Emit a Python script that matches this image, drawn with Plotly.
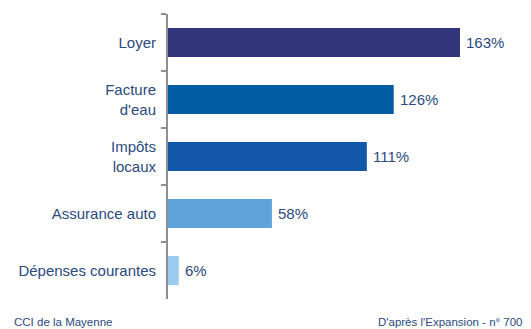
import plotly.graph_objects as go

# Hausse des dépenses (en %)
categories = ["Loyer", "Facture<br>d'eau", "Impôts<br>locaux", "Assurance auto", "Dépenses courantes"]
values = [163, 126, 111, 58, 6]
labels = ["163%", "126%", "111%", "58%", "6%"]
colors = ["#33357a", "#005ba3", "#1358a8", "#5fa3d9", "#99ccee"]

text_color = "#2b4a7e"
font_family = "Liberation Sans, Arial, sans-serif"

fig = go.Figure(
    go.Bar(
        x=values,
        y=categories,
        orientation="h",
        marker=dict(color=colors, line=dict(width=0)),
        cliponaxis=False,
        hoverinfo="skip",
    )
)

# value labels placed just right of each bar end
value_notes = [
    dict(
        x=v, y=c, xref="x", yref="y",
        text=t, showarrow=False,
        xanchor="left", yanchor="middle", xshift=4,
        font=dict(size=15, color=text_color, family=font_family),
    )
    for c, v, t in zip(categories, values, labels)
]

# plot area spans 168..520 px horizontally, 14..299 px vertically
pw, ph = 352, 285
footer = [
    dict(
        text="CCI de la Mayenne",
        xref="paper", yref="paper",
        x=(12 - 168) / pw, y=(299 - 330) / ph,
        xanchor="left", yanchor="bottom",
        showarrow=False,
        font=dict(size=11.5, color=text_color, family=font_family),
    ),
    dict(
        text="D'après l'Expansion - n° 700",
        xref="paper", yref="paper",
        x=(525 - 168) / pw, y=(299 - 330) / ph,
        xanchor="right", yanchor="bottom",
        showarrow=False,
        font=dict(size=11.5, color=text_color, family=font_family),
    ),
]

fig.update_layout(
    width=531,
    height=329,
    margin=dict(l=168, r=11, t=14, b=30),
    paper_bgcolor="white",
    plot_bgcolor="white",
    bargap=0.49,
    showlegend=False,
    font=dict(family=font_family, size=15, color=text_color),
    xaxis=dict(
        range=[0, 196.5],
        visible=False,
        fixedrange=True,
    ),
    yaxis=dict(
        type="category",
        autorange="reversed",
        showline=True,
        linecolor="#8c9096",
        linewidth=2,
        ticks="outside",
        tickson="boundaries",
        ticklen=5,
        tickcolor="#8c9096",
        tickwidth=1.5,
        ticklabelstandoff=7,
        showgrid=False,
        zeroline=False,
        tickfont=dict(size=15, color=text_color, family=font_family),
    ),
    annotations=value_notes + footer,
)

fig.write_html("out.html")
